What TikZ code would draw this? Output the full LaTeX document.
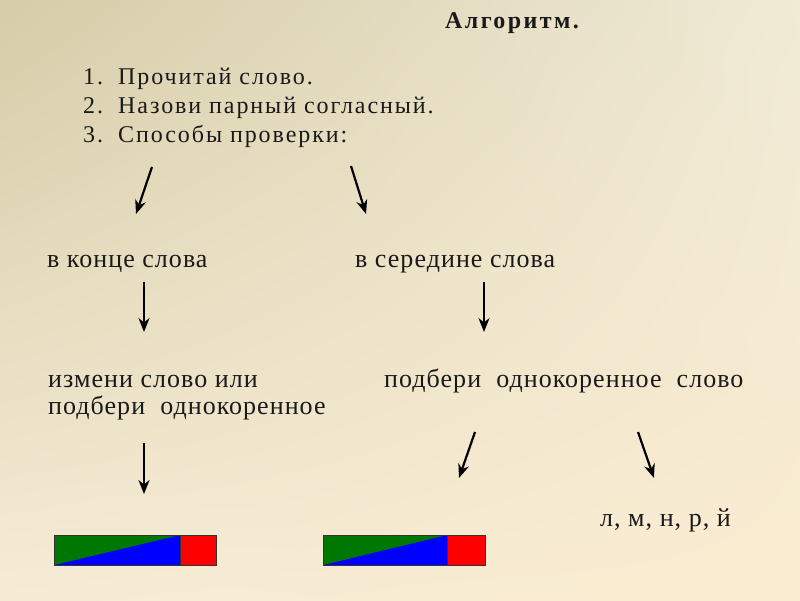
\documentclass[tikz,border=0pt]{standalone}
\usepackage{fontspec}
\setmainfont{Liberation Serif}
\usetikzlibrary{arrows.meta,shadings}
\definecolor{bgA}{RGB}{214,204,168}
\definecolor{bgB}{RGB}{240,234,214}
\definecolor{bgC}{RGB}{246,236,214}
\definecolor{bgD}{RGB}{250,236,208}
\definecolor{txt}{RGB}{25,25,25}
\definecolor{barG}{RGB}{0,120,0}
\definecolor{barB}{RGB}{0,0,255}
\definecolor{barR}{RGB}{255,0,0}
\newfontfamily\listfont[LetterSpace=8]{Liberation Serif}
\newfontfamily\bodyfont[LetterSpace=4]{Liberation Serif}
\newfontfamily\titlefont[LetterSpace=10]{Liberation Serif}
\tikzset{
  lbl/.style={anchor=base west, inner sep=0pt, text=txt, font=\bodyfont\fontsize{26}{30}\selectfont},
  lst/.style={anchor=base west, inner sep=0pt, text=txt, font=\listfont\fontsize{24}{28}\selectfont},
  arr/.style={line width=2.2pt, -{Stealth[length=14pt,width=11pt]}, draw=black},
}
\begin{document}
\begin{tikzpicture}[x=1pt,y=-1pt]
\useasboundingbox (0,0) rectangle (800,600);
\shade[upper left=bgA, upper right=bgB, lower left=bgC, lower right=bgD] (0,0) rectangle (800,600);
% title
\node[lbl, font=\titlefont\fontsize{24}{28}\selectfont\bfseries] (title) at (445,28) {Алгоритм.};
% list
\node[lst] (n1) at (83,84) {1.};
\node[lst] (l1) at (118,84) {Прочитай слово.};
\node[lst] (n2) at (83,113) {2.};
\node[lst] (l2) at (118,113) {Назови парный согласный.};
\node[lst] (n3) at (83,142) {3.};
\node[lst] (l3) at (118,142) {Способы проверки:};
% level 2
\node[lbl] (end) at (47,267) {в конце слова};
\node[lbl] (mid) at (355,267) {в середине слова};
% level 3
\node[lbl] (chg1) at (48,387) {измени слово или};
\node[lbl] (chg2) at (48,414) {подбери\ \ однокоренное};
\node[lbl] (pick) at (384,387) {подбери\ \ однокоренное\ \ слово};
\node[lbl] (cons) at (600,526) {л, м, н, р, й};
% arrow endpoints
\coordinate (a1s) at (152,167); \coordinate (a1e) at (136,214);
\coordinate (a2s) at (351,166); \coordinate (a2e) at (366,214);
\coordinate (a3s) at (144,282); \coordinate (a3e) at (144,332);
\coordinate (a4s) at (484,282); \coordinate (a4e) at (484,332);
\coordinate (a5s) at (144,443); \coordinate (a5e) at (144,494);
\coordinate (a6s) at (475,432); \coordinate (a6e) at (459,478);
\coordinate (a7s) at (638,432); \coordinate (a7e) at (654,478);
\draw[arr] (a1s) -- (a1e);
\draw[arr] (a2s) -- (a2e);
\draw[arr] (a3s) -- (a3e);
\draw[arr] (a4s) -- (a4e);
\draw[arr] (a5s) -- (a5e);
\draw[arr] (a6s) -- (a6e);
\draw[arr] (a7s) -- (a7e);
% bars
\foreach \x/\r in {54/180,323/447}{
  \fill[barB] (\x,535) rectangle (\r,565);
  \fill[barG] (\x,565) -- (\x,535) -- (\r,535) -- cycle;
  \fill[barR] (\r,535) rectangle (\x+162,565);
  \draw[black!80, line width=0.8pt] (\r,535) -- (\r,565);
  \draw[black!80, line width=1pt] (\x,535) rectangle (\x+162,565);
}
\end{tikzpicture}
\end{document}
